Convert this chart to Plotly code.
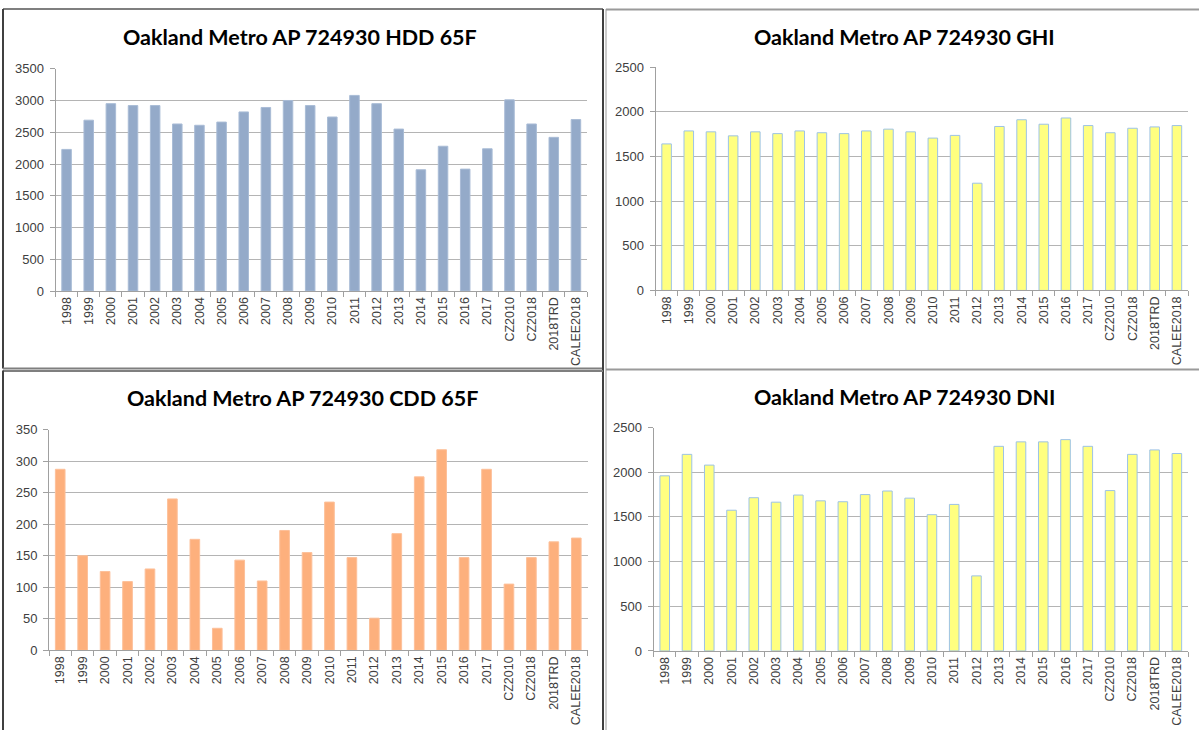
import plotly.graph_objects as go

categories = ["1998", "1999", "2000", "2001", "2002", "2003", "2004", "2005", "2006", "2007",
              "2008", "2009", "2010", "2011", "2012", "2013", "2014", "2015", "2016", "2017",
              "CZ2010", "CZ2018", "2018TRD", "CALEE2018"]

hdd = [2230, 2690, 2950, 2920, 2920, 2630, 2610, 2660, 2820, 2890,
       3000, 2920, 2740, 3080, 2950, 2550, 1910, 2280, 1920, 2240,
       3010, 2630, 2420, 2700]
ghi = [1640, 1785, 1775, 1730, 1775, 1755, 1785, 1765, 1755, 1785,
       1805, 1775, 1705, 1735, 1200, 1835, 1910, 1860, 1930, 1845,
       1765, 1815, 1830, 1845]
cdd = [287, 150, 125, 109, 129, 240, 176, 35, 143, 110,
       190, 155, 235, 147, 51, 185, 275, 318, 147, 287,
       105, 147, 172, 178]
dni = [1960, 2200, 2080, 1575, 1715, 1665, 1745, 1680, 1670, 1750,
       1790, 1710, 1525, 1640, 840, 2290, 2340, 2340, 2365, 2290,
       1795, 2200, 2250, 2210]

titles = ["Oakland Metro AP 724930 HDD 65F", "Oakland Metro AP 724930 GHI",
          "Oakland Metro AP 724930 CDD 65F", "Oakland Metro AP 724930 DNI"]

W, H = 1199, 738

def px(x):
    return x / W

def py(y):
    return 1 - y / H

panels = [
    dict(v=hdd, ymax=3500, dt=500, c="#94AAC9", lc="#A9BCD6", x0=55.5, x1=587, yt=63, yb=290, tx=300, ty=31),
    dict(v=ghi, ymax=2500, dt=500, c="#FFFF80", lc="#9DC3E6", x0=655.5, x1=1188, yt=61.3, yb=289.3, tx=904, ty=31),
    dict(v=cdd, ymax=350, dt=50, c="#FDB07D", lc="#FDC09A", x0=49, x1=587.5, yt=431.3, yb=656.7, tx=302, ty=399),
    dict(v=dni, ymax=2500, dt=500, c="#FFFF80", lc="#9DC3E6", x0=653.6, x1=1188, yt=429.3, yb=657.3, tx=904, ty=398),
]

fig = go.Figure()
layout = {}
annotations = []
xfont = dict(family="Liberation Sans, Arial, sans-serif", size=12.5, color="#404040")
yfont = dict(family="Liberation Sans, Arial, sans-serif", size=13, color="#404040")

for i, p in enumerate(panels):
    n = "" if i == 0 else str(i + 1)
    fig.add_trace(go.Bar(
        x=categories, y=p["v"], xaxis="x" + n, yaxis="y" + n,
        marker=dict(color=p["c"], line=dict(color=p["lc"], width=1)),
        showlegend=False, hoverinfo="x+y",
    ))
    layout["xaxis" + n] = dict(
        domain=[px(p["x0"]), px(p["x1"])], anchor="y" + n,
        type="category", tickangle=-90, tickfont=xfont,
        showline=True, linecolor="#A0A0A0", linewidth=1,
        ticks="outside", tickson="boundaries", ticklen=5, tickcolor="#A0A0A0",
        showgrid=False, zeroline=False, fixedrange=True,
    )
    layout["yaxis" + n] = dict(
        domain=[py(p["yb"]), py(p["yt"])], anchor="x" + n,
        range=[0, p["ymax"]], dtick=p["dt"], tick0=0, tickfont=yfont,
        showline=True, linecolor="#A0A0A0", linewidth=1,
        ticks="outside", ticklen=5, tickcolor="#A0A0A0",
        showgrid=True, gridcolor="#B4B4B4", gridwidth=1,
        zeroline=False, fixedrange=True, ticklabelstandoff=3,
    )
    annotations.append(dict(
        text="<b>" + titles[i] + "</b>", x=px(p["tx"]), y=py(p["ty"]),
        xref="paper", yref="paper", xanchor="center", yanchor="middle",
        showarrow=False, font=dict(family="Lato, Open Sans, sans-serif", size=21.5, color="#000000"),
    ))

def line(x0, y0, x1, y1, color="#555555", width=2):
    return dict(type="line", xref="paper", yref="paper",
                x0=px(x0), y0=py(y0), x1=px(x1), y1=py(y1),
                line=dict(color=color, width=width), layer="above")

shapes = [
    line(3, 2, 603, 2, "#7F7F7F"), line(3, 2, 3, 369, "#404040"),
    line(3, 369, 603, 369, "#7F7F7F"), line(603, 2, 603, 738, "#404040"),
    line(3, 371.5, 603, 371.5, "#7F7F7F"), line(3, 371, 3, 738, "#404040"),
    line(606, 2.5, 1199, 2.5, "#9A9A9A"), line(606, 2, 606, 738, "#9A9A9A", 1),
    line(606, 370, 1199, 370, "#9A9A9A"),
]

fig.update_layout(
    width=W, height=H, autosize=False,
    margin=dict(l=0, r=0, t=0, b=0),
    paper_bgcolor="#FFFFFF", plot_bgcolor="#FFFFFF",
    bargap=0.57, annotations=annotations, shapes=shapes,
    **layout,
)

fig.write_html("out.html", config={"displayModeBar": False},
               post_script="document.body.style.margin='0';document.body.style.padding='0';")
